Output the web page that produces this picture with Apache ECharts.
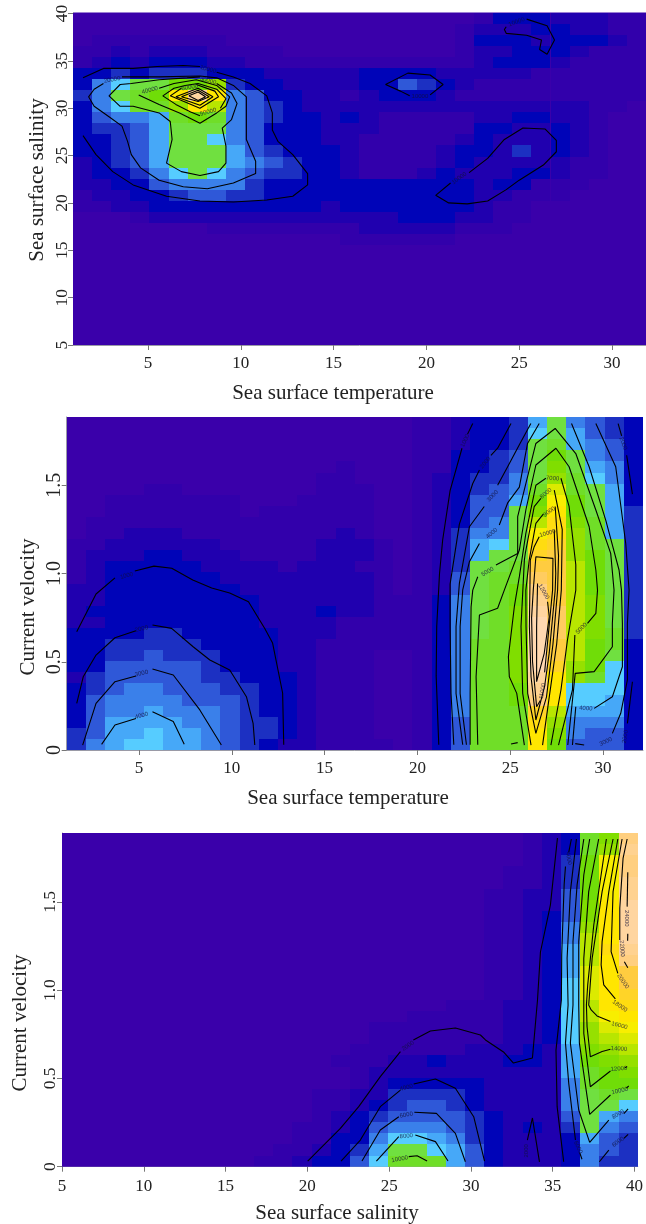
<!DOCTYPE html>
<html><head><meta charset="utf-8">
<style>html,body{margin:0;padding:0;background:#fff}#c{width:646px;height:1224px;filter:blur(0.35px)}</style>
<script src="https://cdn.jsdelivr.net/npm/echarts@6/dist/echarts.min.js"></script>
</head><body><div id="c"></div>
<script>
// colour ramp (26 classes, as in topo colours after printing)
const ramp=['#3a00aa','#3200ab','#2000af','#0004b8','#1c30c2','#2f58d8','#3a80ea','#46a8f8','#56ccff','#70e040','#70de28','#70dd08','#80de00','#96e000','#b8e600','#dcea00','#f8ee00','#ffe600','#ffdc10','#ffd428','#ffcc40','#ffcc60','#ffcf80','#ffd290','#ffd5a0','#ffd8b0'];

// Panel 1: fitted abundance on 30x30 grid, top row first, units of 4000
const tempSalinityGrid=[
[0,0,0,0,0,0,0,0,0,0,0,0,0,0,0,0,0,0,0,0,0,1,3,3,3,2,2,2,1,1],
[0,0,0,0,0,0,0,0,0,0,0,0,0,0,0,0,0,0,0,0,1,2,2,2,3,3,2,2,1,1],
[0,1,1,1,1,1,1,1,0,0,0,0,0,0,0,0,0,0,0,0,1,3,3,3,2,3,3,3,2,1],
[1,1,2,1,2,2,2,1,1,1,1,0,0,0,0,0,0,0,0,0,1,2,2,3,3,3,2,1,1,1],
[1,2,3,2,3,3,3,2,2,1,1,1,1,1,1,1,1,1,1,1,1,2,3,3,3,2,1,1,1,1],
[3,3,4,3,4,4,4,3,3,3,2,2,2,2,2,3,3,3,3,2,2,2,2,2,1,1,1,1,1,1],
[3,6,8,9,9,11,11,13,4,3,3,2,2,2,2,3,3,5,4,3,2,1,1,1,1,1,1,1,1,1],
[4,6,9,10,11,17,24,17,6,5,3,3,2,2,1,2,3,3,3,2,1,1,1,1,1,1,1,1,1,1],
[3,6,8,10,10,13,17,14,6,5,4,3,2,2,2,2,2,2,2,2,2,2,2,2,2,2,2,1,1,0],
[3,5,6,6,7,10,11,10,6,5,4,3,3,2,3,2,1,1,1,1,1,2,2,3,3,2,2,1,0,0],
[3,4,4,5,7,9,9,9,6,5,3,3,3,2,2,2,1,1,1,1,1,3,3,2,2,3,2,1,0,0],
[3,3,4,5,7,9,9,8,6,5,3,3,3,2,2,1,1,1,1,1,2,3,2,2,2,3,2,1,0,0],
[3,3,4,5,7,9,9,9,7,5,4,3,3,3,2,1,1,1,1,2,3,3,2,4,2,3,2,1,0,0],
[2,3,4,5,7,9,9,9,7,6,5,4,3,3,2,1,1,1,1,2,3,2,2,2,2,2,1,1,0,0],
[2,3,3,4,6,8,9,8,6,5,4,4,3,3,2,1,1,1,2,3,2,2,2,3,3,2,1,1,0,0],
[2,2,3,3,5,6,6,6,6,4,3,3,3,3,3,3,3,3,3,3,3,2,3,3,1,1,1,0,0,0],
[1,2,2,3,3,4,5,5,4,4,3,3,3,3,3,3,3,3,3,3,3,2,2,1,1,1,0,0,0,0],
[1,1,2,2,3,3,3,3,3,3,3,3,3,2,3,3,3,3,3,3,3,2,1,1,0,0,0,0,0,0],
[0,0,0,1,2,2,2,2,2,2,2,2,2,2,2,2,2,3,3,3,2,2,1,1,0,0,0,0,0,0],
[0,0,0,0,0,0,0,1,1,1,1,1,1,1,1,2,2,2,2,2,1,1,1,0,0,0,0,0,0,0],
[0,0,0,0,0,0,0,0,0,0,0,0,0,0,1,1,1,1,1,1,0,0,0,0,0,0,0,0,0,0],
[0,0,0,0,0,0,0,0,0,0,0,0,0,0,0,0,0,0,0,0,0,0,0,0,0,0,0,0,0,0],
[0,0,0,0,0,0,0,0,0,0,0,0,0,0,0,0,0,0,0,0,0,0,0,0,0,0,0,0,0,0],
[0,0,0,0,0,0,0,0,0,0,0,0,0,0,0,0,0,0,0,0,0,0,0,0,0,0,0,0,0,0],
[0,0,0,0,0,0,0,0,0,0,0,0,0,0,0,0,0,0,0,0,0,0,0,0,0,0,0,0,0,0],
[0,0,0,0,0,0,0,0,0,0,0,0,0,0,0,0,0,0,0,0,0,0,0,0,0,0,0,0,0,0],
[0,0,0,0,0,0,0,0,0,0,0,0,0,0,0,0,0,0,0,0,0,0,0,0,0,0,0,0,0,0],
[0,0,0,0,0,0,0,0,0,0,0,0,0,0,0,0,0,0,0,0,0,0,0,0,0,0,0,0,0,0],
[0,0,0,0,0,0,0,0,0,0,0,0,0,0,0,0,0,0,0,0,0,0,0,0,0,0,0,0,0,0],
[0,0,0,0,0,0,0,0,0,0,0,0,0,0,0,0,0,0,0,0,0,0,0,0,0,0,0,0,0,0]];

// Panel 2: units of 500
const tempVelocityGrid=[
[0,0,0,0,0,0,0,0,0,0,0,0,0,0,0,0,0,0,1,1,2,3,3,4,7,9,6,5,4,3],
[0,0,0,0,0,0,0,0,0,0,0,0,0,0,0,0,0,0,1,1,2,3,3,4,8,9,7,5,4,3],
[0,0,0,0,0,0,0,0,0,0,0,0,0,0,0,0,0,0,1,1,2,3,3,4,9,10,7,6,5,3],
[0,0,0,0,0,0,0,0,0,0,0,0,0,0,0,0,0,0,1,1,3,3,4,5,9,11,9,6,5,3],
[0,0,0,0,0,0,0,0,0,0,0,0,0,0,1,0,0,0,1,1,3,3,4,5,9,12,9,7,6,3],
[0,0,0,0,0,0,0,0,0,0,0,0,0,1,1,0,0,0,1,2,3,4,4,6,9,13,10,8,6,3],
[0,0,0,0,1,1,0,0,0,0,0,0,0,1,1,1,0,0,1,2,3,4,5,6,10,15,10,9,7,3],
[0,0,1,1,1,1,1,1,1,0,0,0,1,1,1,1,0,0,1,2,3,5,5,7,11,16,11,9,7,3],
[0,0,1,1,1,1,1,1,1,0,1,1,1,1,1,1,0,0,1,2,3,5,5,9,12,17,11,9,7,4],
[0,1,1,1,1,1,1,1,1,1,1,1,1,1,1,1,0,0,1,2,3,5,6,9,14,18,12,10,7,4],
[0,1,1,2,2,2,1,1,1,1,1,1,1,1,2,1,0,0,1,2,4,6,6,9,16,18,13,10,7,4],
[1,1,2,2,2,2,2,2,1,1,1,1,1,2,2,2,1,0,1,2,4,7,8,9,18,19,13,10,9,4],
[1,2,2,2,3,3,2,2,2,1,1,1,1,2,2,2,1,0,1,2,4,7,9,9,19,20,13,11,9,4],
[1,2,3,3,3,3,3,2,2,2,2,1,2,2,2,1,1,0,1,2,4,9,9,10,20,20,14,11,9,4],
[1,2,3,3,3,3,3,3,2,2,2,2,2,2,2,2,1,0,1,2,5,9,10,10,21,20,14,11,9,4],
[2,2,3,3,3,3,3,3,3,2,2,2,2,2,2,2,1,0,1,2,5,9,10,11,22,20,14,11,9,4],
[2,2,3,3,3,3,3,3,3,3,2,2,2,2,2,2,1,1,1,3,6,9,10,11,23,20,14,12,9,4],
[2,3,3,3,3,3,3,3,3,3,2,2,2,3,2,2,1,1,1,3,6,9,10,12,24,21,14,12,9,4],
[2,2,3,3,3,3,3,3,3,3,2,2,2,2,1,1,1,1,1,3,6,9,10,12,25,21,14,12,9,4],
[3,3,3,3,4,4,3,3,3,3,3,2,2,2,1,1,1,1,1,3,6,9,10,12,25,21,14,12,10,4],
[3,3,4,4,4,4,4,3,3,3,3,2,2,1,1,1,1,1,1,3,6,10,10,12,25,20,14,11,10,3],
[3,3,4,4,5,4,4,4,3,3,3,2,2,1,1,1,0,0,1,3,6,10,10,12,25,20,14,11,9,3],
[3,3,5,5,5,5,5,4,3,3,3,2,2,1,1,1,0,0,1,3,6,10,10,12,25,19,13,11,8,3],
[2,4,5,5,5,5,5,4,4,3,3,3,2,1,1,1,0,0,1,3,6,10,10,12,24,17,13,10,8,3],
[3,4,5,6,6,5,5,5,4,4,3,3,2,1,1,1,0,0,1,3,6,10,10,11,23,17,8,8,8,3],
[3,5,6,6,6,6,5,5,5,4,3,3,2,1,1,1,0,0,1,3,6,10,10,11,22,17,8,8,7,3],
[3,5,6,6,7,6,6,6,5,4,3,3,2,1,1,1,0,0,1,3,6,10,10,10,19,14,7,7,7,3],
[3,5,7,7,7,7,6,6,5,4,4,3,2,1,1,1,0,0,1,3,5,10,10,10,18,13,6,6,6,3],
[4,5,7,7,8,7,7,6,5,4,4,3,2,1,1,1,0,0,1,3,5,10,10,10,17,12,6,5,5,3],
[4,6,7,8,8,7,7,6,5,4,3,2,2,1,1,1,1,0,1,3,5,10,10,10,17,11,5,5,5,3]];

// Panel 3: units of 1000
const salinityVelocityGrid=[
[0,0,0,0,0,0,0,0,0,0,0,0,0,0,0,0,0,0,0,0,0,0,0,0,1,2,3,10,12,22],
[0,0,0,0,0,0,0,0,0,0,0,0,0,0,0,0,0,0,0,0,0,0,0,0,1,2,3,10,13,23],
[0,0,0,0,0,0,0,0,0,0,0,0,0,0,0,0,0,0,0,0,0,0,0,0,1,2,4,11,16,22],
[0,0,0,0,0,0,0,0,0,0,0,0,0,0,0,0,0,0,0,0,0,0,0,1,1,2,4,11,16,22],
[0,0,0,0,0,0,0,0,0,0,0,0,0,0,0,0,0,0,0,0,0,0,0,1,1,2,4,11,16,23],
[0,0,0,0,0,0,0,0,0,0,0,0,0,0,0,0,0,0,0,0,0,0,1,1,2,2,5,11,16,23],
[0,0,0,0,0,0,0,0,0,0,0,0,0,0,0,0,0,0,0,0,0,0,1,1,2,2,5,12,17,24],
[0,0,0,0,0,0,0,0,0,0,0,0,0,0,0,0,0,0,0,0,0,0,1,1,2,3,5,12,17,24],
[0,0,0,0,0,0,0,0,0,0,0,0,0,0,0,0,0,0,0,0,0,0,1,1,2,3,6,13,17,24],
[0,0,0,0,0,0,0,0,0,0,0,0,0,0,0,0,0,0,0,0,0,0,1,1,2,3,6,14,17,24],
[0,0,0,0,0,0,0,0,0,0,0,0,0,0,0,0,0,0,0,0,0,0,1,1,2,3,7,14,18,23],
[0,0,0,0,0,0,0,0,0,0,0,0,0,0,0,0,0,0,0,0,0,0,1,1,2,3,7,14,17,22],
[0,0,0,0,0,0,0,0,0,0,0,0,0,0,0,0,0,0,0,0,0,0,1,1,2,3,7,15,17,20],
[0,0,0,0,0,0,0,0,0,0,0,0,0,0,0,0,0,0,0,0,0,0,1,1,2,3,8,15,17,20],
[0,0,0,0,0,0,0,0,0,0,0,0,0,0,0,0,0,0,0,0,0,0,1,1,2,3,8,15,17,19],
[0,0,0,0,0,0,0,0,0,0,0,0,0,0,0,0,0,0,0,0,1,1,1,2,2,3,8,14,17,18],
[0,0,0,0,0,0,0,0,0,0,0,0,0,0,0,0,0,0,1,1,1,1,1,2,2,3,8,14,16,17],
[0,0,0,0,0,0,0,0,0,0,0,0,0,0,0,0,1,1,1,1,1,1,1,2,2,3,8,13,15,16],
[0,0,0,0,0,0,0,0,0,0,0,0,0,0,0,0,1,1,1,1,1,1,1,2,2,3,8,13,14,15],
[0,0,0,0,0,0,0,0,0,0,0,0,0,0,0,1,1,1,1,1,1,2,2,2,3,2,7,12,13,14],
[0,0,0,0,0,0,0,0,0,0,0,0,0,0,1,1,1,2,2,3,2,2,2,3,3,2,7,11,12,13],
[0,0,0,0,0,0,0,0,0,0,0,0,0,0,0,1,2,2,2,2,2,2,2,2,2,2,7,10,11,12],
[0,0,0,0,0,0,0,0,0,0,0,0,0,0,0,1,2,3,3,3,3,3,2,2,2,2,6,10,11,11],
[0,0,0,0,0,0,0,0,0,0,0,0,0,1,1,2,2,4,4,4,4,3,2,2,2,2,6,9,10,9],
[0,0,0,0,0,0,0,0,0,0,0,0,0,1,1,2,3,4,5,5,4,3,2,2,2,2,6,9,9,8],
[0,0,0,0,0,0,0,0,0,0,0,0,0,1,2,3,4,5,5,5,5,4,3,2,2,2,5,9,7,6],
[0,0,0,0,0,0,0,0,0,0,0,0,1,1,2,3,5,6,6,6,5,4,3,2,3,2,4,9,6,5],
[0,0,0,0,0,0,0,0,0,0,0,0,1,1,3,3,6,8,8,7,6,4,3,2,2,2,3,7,5,4],
[0,0,0,0,0,0,0,0,0,0,0,1,1,2,3,4,7,9,9,8,7,5,3,2,2,2,3,6,5,4],
[0,0,0,0,0,0,0,0,0,0,1,1,2,3,3,5,8,10,10,10,7,5,3,2,2,2,3,6,4,4]];

// Tick labels
const tempTicks=[5,10,15,20,25,30];
const salinityYTicks=[5,10,15,20,25,30,35,40];
const salinityXTicks=[5,10,15,20,25,30,35,40];
const velocityTicks=[0,0.5,1,1.5];

// Contour lines in data coordinates (each entry one unbroken piece)
const contours1=[
[[1.5,33.2],[2.6,34.2],[4.2,34.2],[5.5,34.4],[6.9,34.5],[7.8,34.4]],
[[8.7,33.8],[9.6,33.3],[10.5,32.6],[11.4,31.3],[11.7,29.5],[11.7,27.7],[12,26.5],[12.8,25.1],[13.6,23.1],[13.6,21.9],[12.8,20.7],[11.4,20.3],[9.6,20.1],[7.8,20.2],[6,20.7],[4.2,21.9],[3.1,23.3],[2.2,25.1],[1.5,27.1]],
[[3.6,33.3],[5.6,33.3],[7.8,33.4],[8.7,33.2],[9.6,32.4],[10.3,31.2],[10.3,28.4],[10.3,26.7],[10.8,24.4],[10.8,23.1],[9.6,22.1],[8.2,21.5],[6.9,21.7],[5.6,22.4],[4.6,23.7],[4.1,25.1],[3.9,26.5],[3.6,28.1],[2.9,29.1],[2.1,30.2],[1.8,31.2],[2.1,32],[2.6,32.6]],
[[7.8,33.3],[7.1,33.2],[5.6,33],[4.1,32.6],[3.5,32.5],[2.9,31.3],[3.5,30.2],[4.2,30.2],[5.6,29.5],[6.2,28.6],[6.3,26.7],[6,24.2],[6.8,23.3],[7.8,22.9],[8.8,23.3],[9.2,24.2],[9.2,26],[9,27.9],[9.5,28.8],[9.8,30.5],[9.5,31.6],[8.7,32.6]],
[[5.6,32.1],[6.4,32.6],[7.6,33],[8.7,32.4],[9.4,31.2],[9.2,30.2],[8.7,29.5],[7.8,28.4],[6.7,29.5],[5.6,30.4],[4.5,31.4]],
[[8.9,30],[9.2,31],[8.7,32],[7.7,32.6],[7,32.4],[6.4,32.1],[5.8,31.3],[6.5,30.4],[7.3,29.6],[7.8,29.2]],
[[6.8,32.1],[6.2,31.3],[7.8,30],[8.8,31.2],[8.6,31.8],[7.6,32.5]],
[[6.5,31.2],[7.7,32.1],[8.5,31.2],[7.8,30.3],[6.5,31.2]],
[[6.8,31.2],[7.7,31.9],[8.3,31.2],[7.7,30.7],[6.8,31.2]],
[[7.2,31.3],[7.7,31.7],[8.1,31.2],[7.7,30.8],[7.2,31.3]],
[[20.2,31.4],[20.9,32.5],[20.2,33.5],[19,33.7],[17.8,32.5],[18.6,31.8],[19.1,31.3]],
[[25.4,39.4],[26.5,38.7],[26.9,37.2],[26.5,35.7],[26.1,36.2],[26.2,37.2],[25.4,37.7],[24.3,37.9],[24.2,38.3],[24.3,38.6]],
[[22.3,23.2],[23.3,24.7],[24.2,26.7],[25.2,27.9],[26.4,27.8],[27,26.6],[27,25.4],[26.3,24],[25,22.4],[24.3,21.4],[23.3,20.2],[22.2,19.9],[21.2,20],[20.5,20.8],[21.3,22.1]]
];
const contours2=[
// left hump
[[1.65,0.67],[2.69,0.884],[3.71,0.975]],
[[4.78,1.014],[5.81,1.042],[6.77,1.03],[7.9,0.963],[8.92,0.918],[9.89,0.89],[10.9,0.84],[11.77,0.69],[12.2,0.606],[12.74,0.323],[12.8,0.03]],
[[1.65,0.264],[2,0.415],[2.69,0.538],[3.71,0.636],[4.84,0.676]],
[[5.73,0.708],[6.76,0.689],[7.92,0.585],[8.82,0.51],[9.89,0.453],[10.79,0.302],[11.15,0.151],[11.24,0.028]],
[[1.97,0.028],[2.69,0.264],[3.71,0.387],[4.84,0.419]],
[[5.73,0.459],[6.85,0.425],[8.28,0.227],[9.44,0.028]],
[[2.99,0.032],[3.71,0.142],[4.84,0.179]],
[[5.73,0.217],[6.85,0.161],[7.44,0.032]],
// right ridge, left flank
[[22.98,1.85],[22.7,1.79]],
[[22.4,1.71],[21.76,1.47],[21.36,1.19],[21.19,1],[21.04,0.7],[21.01,0.42],[21.15,0.03]],
[[25.04,1.85],[24.32,1.71],[23.96,1.67]],
[[23.34,1.586],[22.98,1.51],[22.26,1.28],[21.76,0.94],[21.76,0.7],[21.81,0.32],[21.96,0.03]],
[[26.11,1.85],[25.49,1.73],[24.86,1.605],[24.32,1.5]],
[[23.6,1.38],[22.8,1.265],[22.26,0.944],[22.08,0.7],[22.08,0.32],[22.44,0.03]],
[[26.56,1.85],[25.93,1.737],[25.49,1.49],[24.86,1.4],[24.41,1.275]],
[[23.34,1.17],[22.8,1.067],[22.44,0.907],[22.3,0.7],[22.3,0.32],[22.64,0.03]],
// peaks
[[24.23,1.048],[25.4,1.114],[25.4,1.322],[25.84,1.51],[26.38,1.737],[27.42,1.822],[28.53,1.68],[29.61,1.36],[30.41,1.114],[30.59,0.906],[30.5,0.718],[30.5,0.585],[29.52,0.444],[28.5,0.434],[28.1,0.028]],
[[23.25,0.982],[22.98,0.906],[22.89,0.81],[22.84,0.32],[22.84,0.03]],
[[23.25,0.03],[23.16,0.415],[23.34,0.765],[24.32,0.803],[24.68,0.906],[25.49,1.133],[25.84,1.36],[26.38,1.615],[27.46,1.71],[28.17,1.605],[29.25,1.265],[29.61,1.02],[29.7,0.906],[29.61,0.774],[29.16,0.718]],
[[28.48,0.652],[28.35,0.34],[27.6,0.028]],
// right flank
[[28.3,1.85],[29.25,1.605],[30.15,1.3],[30.86,1.02],[30.99,0.906],[31.04,0.718],[31.04,0.472],[30.5,0.302],[29.52,0.236]],
[[28.53,0.245],[28.35,0.028]],
[[29.61,1.85],[30.68,1.605],[31.22,1.17],[31.4,0.906],[31.31,0.718],[31.31,0.397],[30.95,0.208],[30.5,0.094]],
[[28.5,0.036],[28.98,0.028]],
[[30.81,1.85],[31,1.78]],
[[31.27,1.67],[31.58,1.45]],
[[31.58,0.387],[31.31,0.151]],
// inner contours
[[26.92,1.54],[26.38,1.5],[25.84,1.228],[25.49,0.982],[25.22,0.812],[24.9,0.529],[24.95,0.415],[25.35,0.321],[25.76,0.028]],
[[27.73,1.54],[28.17,1.38],[28.53,1.05],[28.53,0.906],[28.08,0.623],[27.73,0.34],[27.19,0.028]],
[[26.65,1.426],[26.29,1.379],[25.81,1.114],[25.76,1.076],[25.58,0.7],[25.67,0.321],[26.12,0.028]],
[[27.37,1.473],[27.8,1.25],[27.75,0.906],[27.5,0.6],[27.1,0.3],[26.74,0.028]],
[[26.78,1.337],[26.38,1.284],[26.02,1.076],[25.84,0.906],[25.85,0.7],[25.94,0.321],[26.38,0.094],[26.95,0.3],[27.3,0.6],[27.55,0.906],[27.6,1.1],[27.42,1.38]],
[[26.56,1.209],[26.29,1.152],[26.08,1.076],[26.03,0.7],[26.12,0.415],[26.38,0.17],[26.85,0.36],[27.1,0.55],[27.42,0.906],[27.45,1],[27.37,1.246]],
[[26.85,0.44],[27,0.6],[27.28,0.906],[27.3,1.086],[26.38,1.095],[26.24,0.906],[26.15,0.75],[26.2,0.5],[26.42,0.245],[26.62,0.28]],
[[26.47,0.944],[26.42,0.7],[26.42,0.387],[26.83,0.548],[27.1,0.755],[27.01,0.84]],
[[25.04,0.034],[25.4,0.042]]
];
const contours3=[
[[20.02,0.032],[22.02,0.217],[23.14,0.34],[24.46,0.51],[25.69,0.652]],
[[26.48,0.718],[27.52,0.769],[29.05,0.786],[30.58,0.746],[30.89,0.718],[31.99,0.65],[32.6,0.587],[33.76,0.616],[34.07,0.944],[34.25,1.216],[34.86,1.483],[35.29,1.862]],
[[33.45,0.15],[33.76,0.276],[34.19,0.027]],
[[22.06,0.032],[23.24,0.151],[24.46,0.34],[25.69,0.434]],
[[26.5,0.468],[27.83,0.497],[29.05,0.444],[30.17,0.283],[30.83,0.032]],
[[23.34,0.032],[24.46,0.208],[25.59,0.283]],
[[26.54,0.308],[27.89,0.302],[29.05,0.189],[29.66,0.028]],
[[24.22,0.032],[25.59,0.17]],
[[26.6,0.179],[27.83,0.142],[28.6,0.032]],
[[26.2,0.057],[26.71,0.062],[27.32,0.032]],
[[36.14,1.856],[35.98,1.78]],
[[35.78,1.7],[35.7,1.6],[35.55,1.2],[35.53,0.944],[35.2,0.66],[35.27,0.34],[35.67,0.028]],
[[36.45,1.856],[36.08,1.558],[35.88,1.18],[35.94,0.916],[35.78,0.7],[35.98,0.472],[36.39,0.151]],
[[36.79,0.042],[36.65,0.08]],
[[36.9,1.856],[36.49,1.596],[36.24,1.275],[36.24,0.916],[36.08,0.7],[36.59,0.321],[37.26,0.138],[38.43,0.264]],
[[39.61,0.327],[39.35,0.3]],
[[37.85,0.028],[38.43,0.094]],
[[39.61,0.183],[39.35,0.16]],
[[37.26,1.856],[36.9,1.652],[36.59,1.275],[36.59,0.916],[36.63,0.7],[37.26,0.296],[38.53,0.406]],
[[39.65,0.457],[39.5,0.445]],
[[37.81,1.856],[37.2,1.558],[36.9,1.18],[36.9,0.916],[36.9,0.755],[37.3,0.453],[38.53,0.542]],
[[39.55,0.567],[39.42,0.56]],
[[38.28,1.856],[37.51,1.369],[37.14,1.03],[37.06,0.916],[37.1,0.793],[37.3,0.623],[38.02,0.652],[38.53,0.665]],
[[38.69,1.856],[38.02,1.558],[37.41,1.18],[37.2,0.916],[37.35,0.888],[37.71,0.854],[38.53,0.822]],
[[38.98,1.856],[38.43,1.558],[38.02,1.275],[37.96,1.143],[38.12,1.03],[38.83,0.95]],
[[39.24,1.856],[38.69,1.558],[38.57,1.218],[38.98,1.095]],
[[39.55,1.856],[39.3,1.746],[39.1,1.464],[39.1,1.284]],
[[39.38,1.161],[39.59,1.127]],
[[39.59,1.668],[39.55,1.473]],
[[39.59,1.32],[39.58,1.28]]
];

// Contour labels: x, y, text, rotation
const labels1=[[8.24,34.1,'10000',-15],[3.07,33,'20000',10],[8.24,32.9,'30000',-15],[5.1,31.9,'40000',15],[7.25,32.2,'60000',10],[8.24,29.6,'50000',15],[19.65,31.3,'10000',0],[24.86,39.1,'10000',20],[21.77,22.6,'10000',35]];
const labels2=[[22.57,1.753,'1000',65],[23.66,1.628,'2000',50],[24.05,1.439,'3000',45],[24,1.228,'4000',40],[23.78,1.01,'5000',30],[27.28,1.539,'7000',-5],[26.92,1.454,'8000',40],[27.1,1.35,'9000',35],[27.01,1.228,'10000',15],[26.8,0.897,'12000',-60],[26.74,0.334,'11000',80],[28.84,0.689,'5000',45],[29.07,0.236,'4000',-5],[30.15,0.047,'3000',25],[31.19,0.076,'2000',80],[31.08,1.737,'2000',-70],[4.34,0.988,'1000',15],[5.14,0.686,'2000',12],[5.14,0.434,'3000',12],[5.14,0.195,'4000',15]];
const labels3=[[26.16,0.684,'2000',35],[33.39,0.09,'2000',90],[26.05,0.448,'4000',15],[26.05,0.293,'6000',10],[26.05,0.174,'8000',5],[25.65,0.043,'10000',10],[35.98,1.747,'4000',-80],[36.55,0.11,'6000',-65],[39,0.297,'8000',30],[39,0.14,'6000',35],[39.1,0.43,'10000',12],[39.05,0.555,'12000',5],[39.05,0.668,'14000',-3],[39.08,0.8,'16000',-15],[39.1,0.91,'18000',-35],[39.3,1.05,'20000',-55],[39.24,1.236,'22000',-85],[39.51,1.407,'24000',-90]];

const panels=[
 {grid:tempSalinityGrid,unit:4000,left:73,top:12.5,width:573,height:332.5,x:[0.96,31.83],y:[5,40.1],xt:tempTicks,yt:salinityYTicks,fmt:v=>String(v),yFont:17.5,yMargin:11,xMargin:10,contours:contours1,labels:labels1},
 {grid:tempVelocityGrid,unit:500,left:66.7,top:417,width:576.3,height:333,x:[1.11,32.15],y:[0,1.887],xt:tempTicks,yt:velocityTicks,fmt:v=>v===0?'0':v.toFixed(1),yFont:20,yMargin:12,xMargin:10,contours:contours2,labels:labels2},
 {grid:salinityVelocityGrid,unit:1000,left:62,top:833,width:576,height:333.7,x:[5,40.2],y:[0,1.89],xt:salinityXTicks,yt:velocityTicks,fmt:v=>v===0?'0':v.toFixed(1),yFont:17.5,yMargin:12,xMargin:11,contours:contours3,labels:labels3}
];

const serif='"Liberation Serif","Times New Roman",serif';
const axisCommon={axisLine:{show:true,onZero:false,lineStyle:{color:'#9a9aa6',width:1}},splitLine:{show:false},axisTick:{show:true,length:5,lineStyle:{color:'#777',width:1}}};
const grids=[],xAxes=[],yAxes=[],series=[],visualMaps=[];
panels.forEach((p,i)=>{
  grids.push({left:p.left,top:p.top,width:p.width,height:p.height,containLabel:false,show:true,borderWidth:0,backgroundColor:ramp[0]});
  xAxes.push({gridIndex:i,type:'value',min:p.x[0],max:p.x[1],...axisCommon,
    axisTick:{...axisCommon.axisTick,customValues:p.xt},
    axisLabel:{customValues:p.xt,fontFamily:serif,fontSize:17,color:'#222',margin:p.xMargin}});
  yAxes.push({gridIndex:i,type:'value',min:p.y[0],max:p.y[1],...axisCommon,
    axisTick:{...axisCommon.axisTick,customValues:p.yt},
    axisLabel:{customValues:p.yt,formatter:p.fmt,rotate:90,fontFamily:serif,fontSize:p.yFont,color:'#222',margin:p.yMargin,verticalAlign:'middle',align:'center'}});
});
panels.forEach((p,i)=>{
  const nx=p.grid[0].length,ny=p.grid.length;
  const dx=(p.x[1]-p.x[0])/nx,dy=(p.y[1]-p.y[0])/ny;
  const data=[];
  p.grid.forEach((row,r)=>row.forEach((v,c)=>data.push([p.x[0]+(c+0.5)*dx,p.y[1]-(r+0.5)*dy,v*p.unit])));
  series.push({type:'custom',xAxisIndex:i,yAxisIndex:i,data,silent:true,z:1,encode:{x:0,y:1},clip:true,
    renderItem:(params,api)=>{
      const a=api.coord([api.value(0)-dx/2,api.value(1)+dy/2]);
      const b=api.coord([api.value(0)+dx/2,api.value(1)-dy/2]);
      const x0=Math.round(a[0]),y0=Math.round(a[1]);
      return {type:'rect',shape:{x:x0,y:y0,width:Math.round(b[0])-x0,height:Math.round(b[1])-y0},style:{fill:api.visual('color'),stroke:null,lineWidth:0}};
    }});
  visualMaps.push({type:'piecewise',show:false,seriesIndex:i,dimension:2,pieces:ramp.map((color,k)=>({min:(k-0.5)*p.unit,max:(k+0.5)*p.unit,color}))});
});
panels.forEach((p,i)=>{
  p.contours.forEach(seg=>series.push({type:'line',xAxisIndex:i,yAxisIndex:i,data:seg,showSymbol:false,symbol:'none',silent:true,z:3,smooth:false,lineStyle:{color:'#000',width:1.1},emphasis:{disabled:true}}));
  series.push({type:'scatter',xAxisIndex:i,yAxisIndex:i,symbolSize:0,silent:true,z:4,
    data:p.labels.map(l=>({value:[l[0],l[1]],label:{show:true,position:'inside',formatter:l[2],rotate:l[3],fontSize:6,fontFamily:'"Liberation Sans",sans-serif',color:'#10103a'}}))});
});
const texts=[
 {t:'Sea surface temperature',x:333,y:393,r:0},
 {t:'Sea surface salinity',x:37,y:180,r:Math.PI/2},
 {t:'Sea surface temperature',x:348,y:798,r:0},
 {t:'Current velocity',x:28,y:607,r:Math.PI/2},
 {t:'Sea surface salinity',x:337,y:1213,r:0},
 {t:'Current velocity',x:20,y:1023,r:Math.PI/2}
];
const chart=echarts.init(document.getElementById('c'),null,{renderer:'canvas'});
chart.setOption({animation:false,backgroundColor:'#fff',tooltip:{show:false},grid:grids,xAxis:xAxes,yAxis:yAxes,visualMap:visualMaps,series,
 graphic:texts.map(o=>({type:'text',x:o.x,y:o.y,rotation:o.r,style:{text:o.t,font:'21px '+serif,fill:'#222',textAlign:'center',textVerticalAlign:'middle'}}))});
</script></body></html>
